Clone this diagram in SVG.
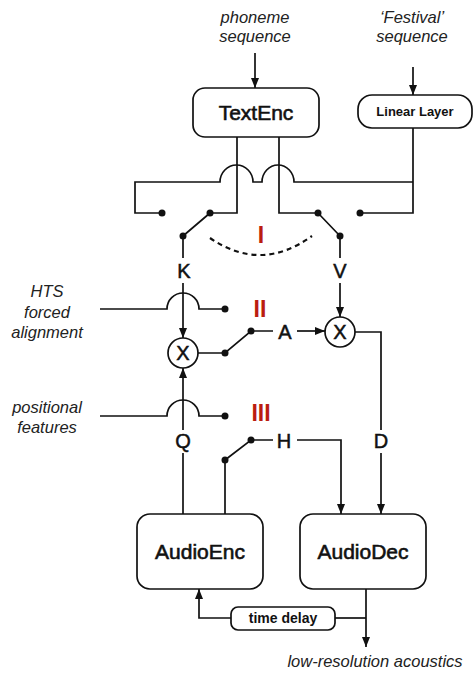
<svg xmlns="http://www.w3.org/2000/svg" width="474" height="673" viewBox="0 0 474 673">
<style>
.ln{fill:none;stroke:#111;stroke-width:1.7;stroke-linejoin:miter}
.box{fill:#fff;stroke:#111;stroke-width:1.7}
.dot{fill:#111}
.it{font-family:"Liberation Sans",Arial,sans-serif;font-style:italic;font-size:16.5px;fill:#222;text-anchor:middle}
.bt{font-family:"Liberation Sans",Arial,sans-serif;font-size:21px;fill:#111;stroke:#111;stroke-width:0.6;text-anchor:middle}
.sm{font-family:"Liberation Sans",Arial,sans-serif;font-weight:bold;font-size:13px;fill:#111;text-anchor:middle}
.lb{font-family:"Liberation Sans",Arial,sans-serif;font-size:20px;fill:#111;stroke:#111;stroke-width:0.5;text-anchor:middle}
.rn{font-family:"Liberation Sans",Arial,sans-serif;font-weight:bold;font-size:23px;fill:#bb1d10;text-anchor:middle}
</style>
<defs>
<marker id="ah" markerUnits="userSpaceOnUse" markerWidth="10" markerHeight="8" refX="10" refY="4" orient="auto">
<path d="M0,0 L10,4 L0,8 z" fill="#111"/>
</marker>
</defs>

<g id="connectors">
<path class="ln" d="M255,53 V88" marker-end="url(#ah)"/>
<path class="ln" d="M413,67 V95" marker-end="url(#ah)"/>
<path class="ln" d="M237,137 V213 H210"/>
<path class="ln" d="M279,137 V213 H318"/>
<path class="ln" d="M413,128 V213 H360"/>
<path class="ln" d="M413,182 H294 A16,17 0 0 0 262,182 H253 A16.5,17 0 0 0 220,182 H135 V213 H162"/>
<path class="ln" d="M210,213 L183,236 V258"/>
<path class="ln" d="M318,213 L340,236 V258"/>
<path d="M210,238 Q261,273 312,236" fill="none" stroke="#111" stroke-width="2.2" stroke-dasharray="5,4"/>
<path class="ln" d="M183,283 V338" marker-end="url(#ah)"/>
<path class="ln" d="M340,283 V317" marker-end="url(#ah)"/>
<path class="ln" d="M100,309 H167 A16,16 0 0 1 199,309 H225"/>
<path class="ln" d="M198,353 H225 L251,331 H273"/>
<path class="ln" d="M297,331 H325" marker-end="url(#ah)"/>
<path class="ln" d="M355,332 H381 V430"/>
<path class="ln" d="M100,416 H167 A16,16 0 0 1 199,416 H225"/>
<path class="ln" d="M183,430 V368" marker-end="url(#ah)"/>
<path class="ln" d="M183,453 V514"/>
<path class="ln" d="M225,514 V460 L251,440 H273"/>
<path class="ln" d="M297,440 H341 V514" marker-end="url(#ah)"/>
<path class="ln" d="M381,453 V514" marker-end="url(#ah)"/>
<path class="ln" d="M366,589 V647" marker-end="url(#ah)"/>
<path class="ln" d="M366,618 H335"/>
<path class="ln" d="M231,618 H199 V589" marker-end="url(#ah)"/>
<circle class="dot" cx="162" cy="213" r="3.5"/>
<circle class="dot" cx="210" cy="213" r="3.5"/>
<circle class="dot" cx="183" cy="236" r="3.5"/>
<circle class="dot" cx="318" cy="213" r="3.5"/>
<circle class="dot" cx="360" cy="213" r="3.5"/>
<circle class="dot" cx="340" cy="236" r="3.5"/>
<circle class="dot" cx="225" cy="309" r="3.5"/>
<circle class="dot" cx="225" cy="353" r="3.5"/>
<circle class="dot" cx="251" cy="331" r="3.5"/>
<circle class="dot" cx="225" cy="416" r="3.5"/>
<circle class="dot" cx="225" cy="460" r="3.5"/>
<circle class="dot" cx="251" cy="440" r="3.5"/>
</g>

<g id="labels">
<text class="it" x="255" y="23">phoneme</text>
<text class="it" x="255" y="42">sequence</text>
<text class="it" x="412" y="23">‘Festival’</text>
<text class="it" x="412" y="42">sequence</text>
<text class="it" x="47" y="297">HTS</text>
<text class="it" x="47" y="318">forced</text>
<text class="it" x="47" y="338">alignment</text>
<text class="it" x="47" y="413">positional</text>
<text class="it" x="47" y="433">features</text>
<text class="it" x="375" y="667">low-resolution acoustics</text>
<text class="lb" x="184" y="278">K</text>
<text class="lb" x="340" y="278">V</text>
<text class="lb" x="285" y="339">A</text>
<text class="lb" x="183" y="448">Q</text>
<text class="lb" x="284" y="448">H</text>
<text class="lb" x="381" y="448">D</text>
<text class="rn" x="261" y="243">I</text>
<text class="rn" x="260" y="317">II</text>
<text class="rn" x="261" y="421">III</text>
</g>

<g id="TextEnc">
<rect class="box" x="193" y="88" width="126" height="49" rx="12"/>
<text class="bt" x="256" y="120">TextEnc</text>
</g>
<g id="LinearLayer">
<rect class="box" x="358" y="95" width="114" height="33" rx="14"/>
<text class="sm" x="415" y="116">Linear Layer</text>
</g>
<g id="MulK">
<circle class="box" cx="183" cy="353" r="15"/>
<text class="lb" x="183" y="360">X</text>
</g>
<g id="MulV">
<circle class="box" cx="340" cy="332" r="15"/>
<text class="lb" x="340" y="339">X</text>
</g>
<g id="AudioEnc">
<rect class="box" x="137" y="514" width="126" height="75" rx="13"/>
<text class="bt" x="200" y="559">AudioEnc</text>
</g>
<g id="AudioDec">
<rect class="box" x="300" y="514" width="126" height="75" rx="13"/>
<text class="bt" x="363" y="559">AudioDec</text>
</g>
<g id="TimeDelay">
<rect class="box" x="231" y="607" width="104" height="23" rx="7"/>
<text class="sm" x="283" y="623" style="font-size:14px">time delay</text>
</g>
</svg>
